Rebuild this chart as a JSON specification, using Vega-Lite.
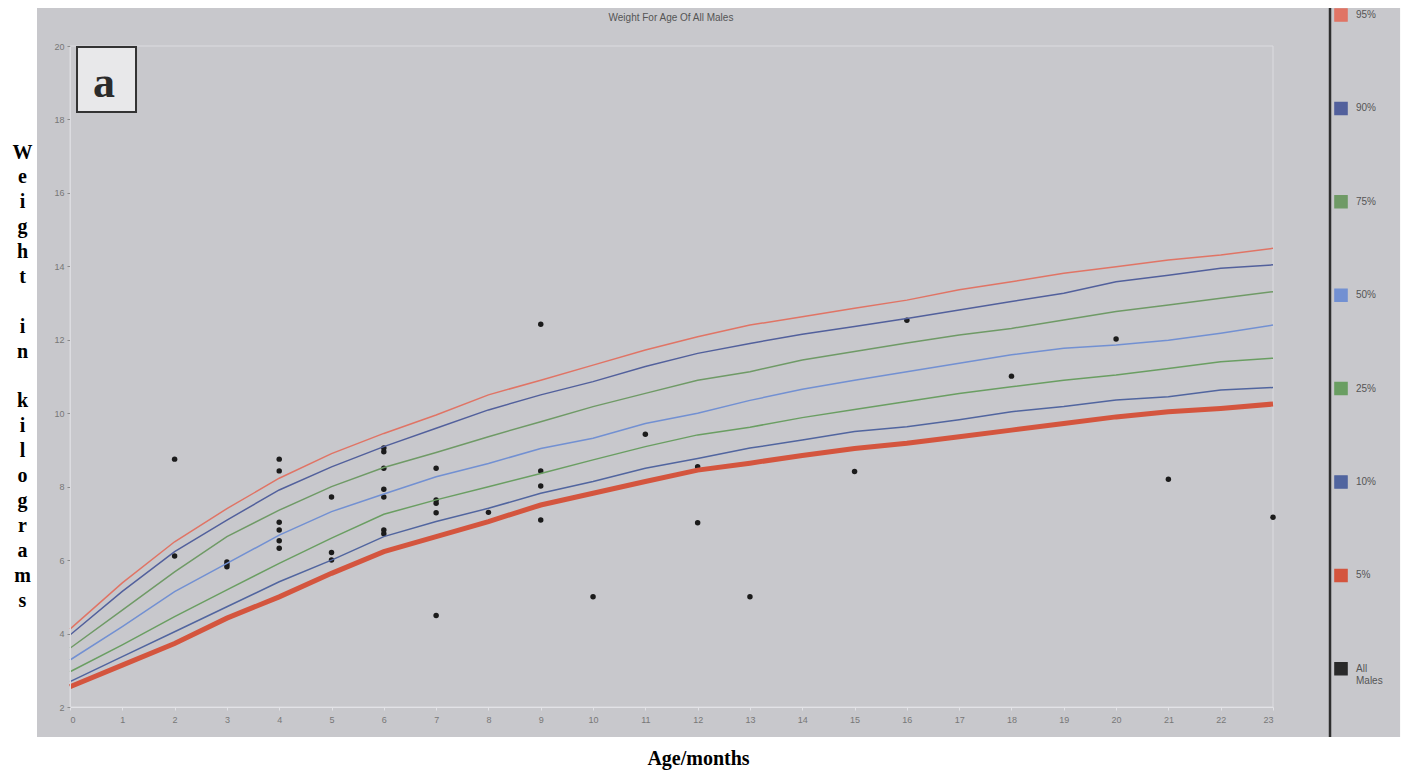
{
  "$schema": "https://vega.github.io/schema/vega-lite/v6.json",
  "autosize": "none",
  "width": 1203,
  "height": 661,
  "padding": {"left": 70, "top": 46, "right": 135, "bottom": 64},
  "background": "#ffffff",
  "datasets": {
    "curves": [
      {"age":0,"p":"95%","weight":4.12},{"age":1,"p":"95%","weight":5.38},{"age":2,"p":"95%","weight":6.5},{"age":3,"p":"95%","weight":7.4},{"age":4,"p":"95%","weight":8.23},{"age":5,"p":"95%","weight":8.9},{"age":6,"p":"95%","weight":9.45},{"age":7,"p":"95%","weight":9.95},{"age":8,"p":"95%","weight":10.5},{"age":9,"p":"95%","weight":10.9},{"age":10,"p":"95%","weight":11.31},{"age":11,"p":"95%","weight":11.72},{"age":12,"p":"95%","weight":12.08},{"age":13,"p":"95%","weight":12.4},{"age":14,"p":"95%","weight":12.63},{"age":15,"p":"95%","weight":12.86},{"age":16,"p":"95%","weight":13.08},{"age":17,"p":"95%","weight":13.36},{"age":18,"p":"95%","weight":13.58},{"age":19,"p":"95%","weight":13.81},{"age":20,"p":"95%","weight":13.99},{"age":21,"p":"95%","weight":14.17},{"age":22,"p":"95%","weight":14.31},{"age":23,"p":"95%","weight":14.49},
      {"age":0,"p":"90%","weight":3.96},{"age":1,"p":"90%","weight":5.15},{"age":2,"p":"90%","weight":6.23},{"age":3,"p":"90%","weight":7.09},{"age":4,"p":"90%","weight":7.91},{"age":5,"p":"90%","weight":8.54},{"age":6,"p":"90%","weight":9.09},{"age":7,"p":"90%","weight":9.59},{"age":8,"p":"90%","weight":10.09},{"age":9,"p":"90%","weight":10.5},{"age":10,"p":"90%","weight":10.86},{"age":11,"p":"90%","weight":11.27},{"age":12,"p":"90%","weight":11.63},{"age":13,"p":"90%","weight":11.9},{"age":14,"p":"90%","weight":12.15},{"age":15,"p":"90%","weight":12.36},{"age":16,"p":"90%","weight":12.58},{"age":17,"p":"90%","weight":12.81},{"age":18,"p":"90%","weight":13.04},{"age":19,"p":"90%","weight":13.27},{"age":20,"p":"90%","weight":13.58},{"age":21,"p":"90%","weight":13.76},{"age":22,"p":"90%","weight":13.95},{"age":23,"p":"90%","weight":14.04},
      {"age":0,"p":"75%","weight":3.6},{"age":1,"p":"75%","weight":4.64},{"age":2,"p":"75%","weight":5.68},{"age":3,"p":"75%","weight":6.64},{"age":4,"p":"75%","weight":7.36},{"age":5,"p":"75%","weight":8.0},{"age":6,"p":"75%","weight":8.52},{"age":7,"p":"75%","weight":8.93},{"age":8,"p":"75%","weight":9.36},{"age":9,"p":"75%","weight":9.77},{"age":10,"p":"75%","weight":10.18},{"age":11,"p":"75%","weight":10.54},{"age":12,"p":"75%","weight":10.9},{"age":13,"p":"75%","weight":11.13},{"age":14,"p":"75%","weight":11.45},{"age":15,"p":"75%","weight":11.68},{"age":16,"p":"75%","weight":11.91},{"age":17,"p":"75%","weight":12.13},{"age":18,"p":"75%","weight":12.31},{"age":19,"p":"75%","weight":12.54},{"age":20,"p":"75%","weight":12.77},{"age":21,"p":"75%","weight":12.95},{"age":22,"p":"75%","weight":13.13},{"age":23,"p":"75%","weight":13.31},
      {"age":0,"p":"50%","weight":3.28},{"age":1,"p":"50%","weight":4.19},{"age":2,"p":"50%","weight":5.14},{"age":3,"p":"50%","weight":5.91},{"age":4,"p":"50%","weight":6.68},{"age":5,"p":"50%","weight":7.32},{"age":6,"p":"50%","weight":7.8},{"age":7,"p":"50%","weight":8.27},{"age":8,"p":"50%","weight":8.63},{"age":9,"p":"50%","weight":9.04},{"age":10,"p":"50%","weight":9.32},{"age":11,"p":"50%","weight":9.72},{"age":12,"p":"50%","weight":10.0},{"age":13,"p":"50%","weight":10.35},{"age":14,"p":"50%","weight":10.65},{"age":15,"p":"50%","weight":10.9},{"age":16,"p":"50%","weight":11.13},{"age":17,"p":"50%","weight":11.36},{"age":18,"p":"50%","weight":11.59},{"age":19,"p":"50%","weight":11.77},{"age":20,"p":"50%","weight":11.86},{"age":21,"p":"50%","weight":11.99},{"age":22,"p":"50%","weight":12.18},{"age":23,"p":"50%","weight":12.4},
      {"age":0,"p":"25%","weight":2.96},{"age":1,"p":"25%","weight":3.69},{"age":2,"p":"25%","weight":4.46},{"age":3,"p":"25%","weight":5.19},{"age":4,"p":"25%","weight":5.91},{"age":5,"p":"25%","weight":6.6},{"age":6,"p":"25%","weight":7.25},{"age":7,"p":"25%","weight":7.64},{"age":8,"p":"25%","weight":8.0},{"age":9,"p":"25%","weight":8.36},{"age":10,"p":"25%","weight":8.73},{"age":11,"p":"25%","weight":9.09},{"age":12,"p":"25%","weight":9.41},{"age":13,"p":"25%","weight":9.62},{"age":14,"p":"25%","weight":9.88},{"age":15,"p":"25%","weight":10.1},{"age":16,"p":"25%","weight":10.32},{"age":17,"p":"25%","weight":10.54},{"age":18,"p":"25%","weight":10.72},{"age":19,"p":"25%","weight":10.9},{"age":20,"p":"25%","weight":11.04},{"age":21,"p":"25%","weight":11.22},{"age":22,"p":"25%","weight":11.4},{"age":23,"p":"25%","weight":11.5},
      {"age":0,"p":"10%","weight":2.69},{"age":1,"p":"10%","weight":3.37},{"age":2,"p":"10%","weight":4.05},{"age":3,"p":"10%","weight":4.73},{"age":4,"p":"10%","weight":5.41},{"age":5,"p":"10%","weight":6.0},{"age":6,"p":"10%","weight":6.64},{"age":7,"p":"10%","weight":7.05},{"age":8,"p":"10%","weight":7.41},{"age":9,"p":"10%","weight":7.82},{"age":10,"p":"10%","weight":8.14},{"age":11,"p":"10%","weight":8.5},{"age":12,"p":"10%","weight":8.77},{"age":13,"p":"10%","weight":9.05},{"age":14,"p":"10%","weight":9.27},{"age":15,"p":"10%","weight":9.5},{"age":16,"p":"10%","weight":9.63},{"age":17,"p":"10%","weight":9.82},{"age":18,"p":"10%","weight":10.04},{"age":19,"p":"10%","weight":10.18},{"age":20,"p":"10%","weight":10.36},{"age":21,"p":"10%","weight":10.45},{"age":22,"p":"10%","weight":10.63},{"age":23,"p":"10%","weight":10.7},
      {"age":0,"p":"5%","weight":2.55},{"age":1,"p":"5%","weight":3.14},{"age":2,"p":"5%","weight":3.73},{"age":3,"p":"5%","weight":4.42},{"age":4,"p":"5%","weight":5.0},{"age":5,"p":"5%","weight":5.64},{"age":6,"p":"5%","weight":6.23},{"age":7,"p":"5%","weight":6.64},{"age":8,"p":"5%","weight":7.05},{"age":9,"p":"5%","weight":7.5},{"age":10,"p":"5%","weight":7.82},{"age":11,"p":"5%","weight":8.14},{"age":12,"p":"5%","weight":8.45},{"age":13,"p":"5%","weight":8.64},{"age":14,"p":"5%","weight":8.85},{"age":15,"p":"5%","weight":9.04},{"age":16,"p":"5%","weight":9.18},{"age":17,"p":"5%","weight":9.36},{"age":18,"p":"5%","weight":9.54},{"age":19,"p":"5%","weight":9.72},{"age":20,"p":"5%","weight":9.9},{"age":21,"p":"5%","weight":10.04},{"age":22,"p":"5%","weight":10.13},{"age":23,"p":"5%","weight":10.25}
    ],
    "males": [
      {"age":2,"weight":8.75},{"age":2,"weight":6.11},{"age":3,"weight":5.95},{"age":3,"weight":5.88},{"age":3,"weight":5.82},
      {"age":4,"weight":8.75},{"age":4,"weight":8.43},{"age":4,"weight":7.03},{"age":4,"weight":6.82},{"age":4,"weight":6.53},{"age":4,"weight":6.32},
      {"age":5,"weight":7.72},{"age":5,"weight":6.21},{"age":5,"weight":6.0},
      {"age":6,"weight":9.05},{"age":6,"weight":8.95},{"age":6,"weight":8.5},{"age":6,"weight":7.93},{"age":6,"weight":7.72},{"age":6,"weight":6.82},{"age":6,"weight":6.72},
      {"age":7,"weight":8.5},{"age":7,"weight":7.64},{"age":7,"weight":7.55},{"age":7,"weight":7.29},{"age":7,"weight":4.49},
      {"age":8,"weight":7.3},{"age":9,"weight":12.42},{"age":9,"weight":8.43},{"age":9,"weight":8.02},{"age":9,"weight":7.09},
      {"age":10,"weight":5.0},{"age":11,"weight":9.43},{"age":12,"weight":8.54},{"age":12,"weight":7.02},{"age":13,"weight":5.0},
      {"age":15,"weight":8.41},{"age":16,"weight":12.53},{"age":18,"weight":11.01},{"age":20,"weight":12.02},{"age":21,"weight":8.2},{"age":23,"weight":7.17}
    ]
  },
  "layer": [
    {
      "data": {"values": [{}]},
      "mark": {"type": "rect", "fill": "#c8c8cc"},
      "encoding": {
        "x": {"datum": -0.631, "type": "quantitative", "scale": {"domain": [0, 23], "nice": false, "zero": false},
          "axis": {"values": [0,1,2,3,4,5,6,7,8,9,10,11,12,13,14,15,16,17,18,19,20,21,22,23], "format": "d", "zindex": 1,
            "title": "Age/months", "titleX": 628, "titleY": 57, "titleAlign": "center", "titleBaseline": "alphabetic"}},
        "x2": {"datum": 25.43},
        "y": {"datum": 21.035, "type": "quantitative", "scale": {"domain": [2, 20], "nice": false, "zero": false},
          "axis": {"values": [2,4,6,8,10,12,14,16,18,20], "format": "d", "zindex": 1,
            "title": ["W","e","i","g","h","t","\u2800","i","n","\u2800","k","i","l","o","g","r","a","m","s"],
            "titleAngle": 0, "titleX": -48, "titleY": 112, "titleAlign": "center", "titleBaseline": "alphabetic", "titleLineHeight": 24.9}},
        "y2": {"datum": 1.183}
      }
    },
    {
      "data": {"values": [{}]},
      "mark": {"type": "rule", "stroke": "#2e2e2e", "strokeWidth": 2.5},
      "encoding": {"x": {"datum": 24.09, "type": "quantitative"}, "y": {"datum": 21.035, "type": "quantitative"}, "y2": {"datum": 1.183}}
    },
    {
      "data": {"values": [{}]},
      "mark": {"type": "rect", "fillOpacity": 0, "stroke": "#dcdce0", "strokeWidth": 1},
      "encoding": {"x": {"datum": 0, "type": "quantitative"}, "x2": {"datum": 23}, "y": {"datum": 20, "type": "quantitative"}, "y2": {"datum": 2}}
    },
    {
      "data": {"values": [{"label": "Weight For Age Of All Males"}]},
      "mark": {"type": "text", "font": "Liberation Sans", "fontSize": 10, "color": "#555555", "align": "center", "baseline": "middle"},
      "encoding": {"text": {"field": "label"}, "x": {"datum": 11.49, "type": "quantitative"}, "y": {"datum": 20.76, "type": "quantitative"}}
    },
    {
      "data": {"name": "males"},
      "mark": {"type": "circle", "size": 30, "color": "#1b1b1b", "opacity": 1},
      "encoding": {"x": {"field": "age", "type": "quantitative"}, "y": {"field": "weight", "type": "quantitative"}}
    },
    {
      "data": {"name": "curves"},
      "transform": [{"filter": "datum.p != '5%'"}],
      "mark": {"type": "line", "strokeWidth": 1.5},
      "encoding": {
        "x": {"field": "age", "type": "quantitative"},
        "y": {"field": "weight", "type": "quantitative"},
        "color": {"field": "p", "type": "nominal",
          "scale": {"domain": ["95%","90%","75%","50%","25%","10%","5%","All Males"],
                    "range": ["#e07465","#52609c","#6f9a66","#7290d2","#6a9e62","#51659f","#d4553e","#2a2a2a"]},
          "legend": {"orient": "none", "legendX": 1264, "legendY": -38, "title": null, "symbolType": "square", "symbolSize": 150,
            "labelFont": "Liberation Sans", "labelFontSize": 10, "labelColor": "#555555", "labelOffset": 8, "rowPadding": 75.4, "padding": 0, "zindex": 1,
            "labelLineHeight": 16,
            "labelExpr": "datum.label == 'All Males' ? ['All','Males'] : datum.label",
            "encode": {
              "symbols": {"update": {"fill": {"scale": "color", "field": "value"}, "stroke": {"value": "#3a3a3a"}, "strokeWidth": {"value": 1.3}, "opacity": {"value": 1}}}
            }}
        }
      }
    },
    {
      "data": {"name": "curves"},
      "transform": [{"filter": "datum.p == '5%'"}],
      "mark": {"type": "line", "strokeWidth": 5},
      "encoding": {
        "x": {"field": "age", "type": "quantitative"},
        "y": {"field": "weight", "type": "quantitative"},
        "color": {"field": "p", "type": "nominal"}
      }
    },
    {
      "data": {"values": [{}]},
      "mark": {"type": "rect", "fill": "#e8e8ea", "stroke": "#333333", "strokeWidth": 2},
      "encoding": {"x": {"datum": 0.134, "type": "quantitative"}, "x2": {"datum": 1.262}, "y": {"datum": 19.97, "type": "quantitative"}, "y2": {"datum": 18.2}}
    },
    {
      "data": {"values": [{}]},
      "mark": {"type": "text", "text": "a", "font": "Liberation Serif", "fontWeight": "bold", "fontSize": 44, "color": "#2b2b2b", "align": "center", "baseline": "alphabetic"},
      "encoding": {"x": {"datum": 0.65, "type": "quantitative"}, "y": {"datum": 18.61, "type": "quantitative"}}
    }
  ],
  "config": {
    "view": {"stroke": null},
    "axis": {"grid": false, "labelFont": "Liberation Sans", "labelFontSize": 9, "labelColor": "#777777",
      "tickSize": 3, "titleFont": "Liberation Serif", "titleFontWeight": "bold", "titleFontSize": 20, "titleColor": "#000000"},
    "axisX": {"domainColor": "#e2e2e6", "tickColor": "#e2e2e6", "labelPadding": 5},
    "axisY": {"domainColor": "#dcdce0", "tickColor": "#8a8a8a", "labelPadding": 3}
  }
}
